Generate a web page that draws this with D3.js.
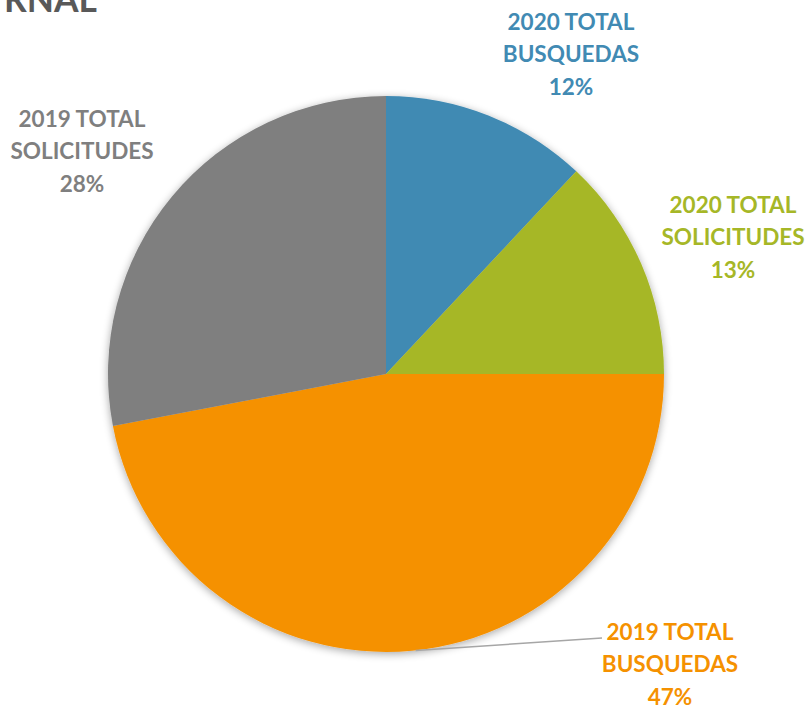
<!DOCTYPE html>
<html><head><meta charset="utf-8">
<script src="https://cdn.jsdelivr.net/npm/d3@7"></script>
<style>body{margin:0;background:#fff}svg{display:block}</style>
</head><body>
<script>
const categories = ["2020 TOTAL BUSQUEDAS","2020 TOTAL SOLICITUDES","2019 TOTAL BUSQUEDAS","2019 TOTAL SOLICITUDES"];
const line1 = ["2020 TOTAL","2020 TOTAL","2019 TOTAL","2019 TOTAL"];
const line2 = ["BUSQUEDAS","SOLICITUDES","BUSQUEDAS","SOLICITUDES"];
const values = [12, 13, 47, 28];
const colors = ["#418AB3","#A6B727","#F59100","#7F7F7F"];
const titleText = "RNAL";

const W = 806, H = 711;
const FONT = "Lato, 'Open Sans', sans-serif";
const svg = d3.select("body").append("svg").attr("width", W).attr("height", H);
const defs = svg.append("defs");
const f = defs.append("filter").attr("id","sh").attr("x","-10%").attr("y","-10%").attr("width","120%").attr("height","120%");
f.append("feGaussianBlur").attr("in","SourceAlpha").attr("stdDeviation",4).attr("result","b");
f.append("feOffset").attr("in","b").attr("dx",0).attr("dy",2).attr("result","o");
f.append("feComponentTransfer").attr("in","o").attr("result","o2").append("feFuncA").attr("type","linear").attr("slope",0.35);
const m = f.append("feMerge"); m.append("feMergeNode").attr("in","o2"); m.append("feMergeNode").attr("in","SourceGraphic");

const title = svg.append("text").attr("x", 4).attr("y", 12).attr("font-family",FONT)
  .attr("font-weight","bold").attr("font-size", 31).attr("fill","#595959").text(titleText);
const tw = title.node().getComputedTextLength();
title.attr("font-size", 31 * 93 / tw);

const cx = 386, cy = 374, R = 278;
const pie = d3.pie().sort(null).value(d => d)(values);
const arc = d3.arc().innerRadius(0).outerRadius(R);
const g = svg.append("g").attr("transform", `translate(${cx},${cy})`);
g.append("g").attr("filter","url(#sh)").selectAll("path").data(pie).join("path")
  .attr("d", arc).attr("fill", (d,i) => colors[i]);

// label positions (layout)
const labelPos = [[571, 22],[733, 205],[670, 632],[82, 119]];
const ang = 3.035; // angle on slice boundary where leader attaches
const sx = cx + R*Math.sin(ang), sy = cy - R*Math.cos(ang);
svg.append("polyline").attr("points", `${sx},${sy} 602,638`).attr("fill","none").attr("stroke","#A6A6A6").attr("stroke-width",1.5);

const lab = svg.append("g").attr("font-family",FONT).attr("font-weight","bold").attr("font-size",18).attr("text-anchor","middle");
const probe = lab.append("text").text(line1[0]);
const fs = 18 * 127 / probe.node().getComputedTextLength();
probe.remove();
lab.attr("font-size", fs);
pie.forEach((d,i) => {
  const [x,y] = labelPos[i];
  const t = lab.append("text").attr("fill", colors[i]);
  [line1[i], line2[i], Math.round(values[i]) + "%"].forEach((s,k) => {
    t.append("tspan").attr("x", x).attr("y", y + k*32.5).attr("dy","0.35em").text(s);
  });
});
</script>
</body></html>
